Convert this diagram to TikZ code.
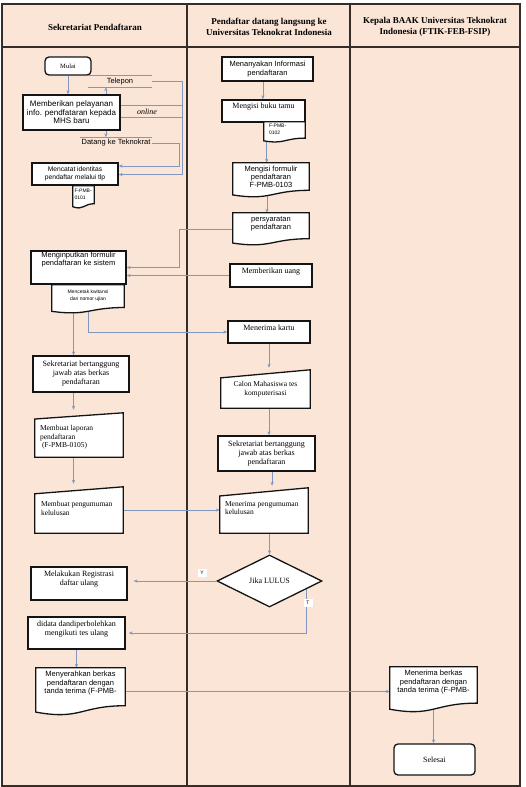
\documentclass[tikz,border=0pt]{standalone}
\usepackage{fontspec}
\setmainfont{Liberation Serif}
\setsansfont{Liberation Sans}
\usetikzlibrary{arrows.meta,calc,shapes.geometric}
\definecolor{peach}{RGB}{251,229,214}
\definecolor{framec}{RGB}{55,45,40}
\definecolor{boxc}{RGB}{20,20,20}
\definecolor{arrc}{RGB}{128,152,192}
\pgfdeclarelayer{back}
\pgfdeclarelayer{conn}
\pgfsetlayers{back,conn,main}
\newcommand\docdraw[1]{%
  \draw[shp] (#1.north west) -- (#1.north east) -- ($(#1.north east)!0.80!(#1.south east)$)
   .. controls ($(#1.north)!0.80!(#1.south)$) and ($(#1.north)!1.11!(#1.south)$) ..
   ($(#1.north west)!0.934!(#1.south west)$) -- cycle;}
\newcommand\mandraw[2]{%
  \draw[shp] ($(#1.north west)!#2!(#1.south west)$) -- (#1.north east) -- (#1.south east) -- (#1.south west) -- cycle;}
\begin{document}
\begin{tikzpicture}[x=1pt,y=-1pt,
 bx/.style={rectangle, draw=boxc, line width=1.3pt, fill=white, inner sep=0pt},
 rbx/.style={bx, rounded corners=4pt},
 ghost/.style={rectangle, draw=none, inner sep=0pt},
 shp/.style={draw=boxc, line width=1.3pt, fill=white, line join=miter},
 ss/.style={font=\fontsize{7.5}{8.4}\selectfont\sffamily, align=center, inner sep=0pt},
 ssb/.style={font=\fontsize{8}{8.5}\selectfont\sffamily, align=center, inner sep=0pt},
 ssm/.style={font=\fontsize{6.7}{7.7}\selectfont\sffamily, align=center, inner sep=0pt},
 sst/.style={font=\fontsize{5}{7}\selectfont\sffamily, align=left, inner sep=0pt},
 rm/.style={font=\fontsize{8}{9}\selectfont\rmfamily, align=center, inner sep=0pt},
 rms/.style={font=\fontsize{7.5}{8.5}\selectfont\rmfamily, align=left, inner sep=0pt},
 hd/.style={font=\fontsize{9}{10.7}\selectfont\bfseries, align=center, inner sep=0pt},
 arr/.style={draw=arrc, line width=0.7pt, -{Stealth[length=4pt,width=3.2pt]}},
 ln/.style={draw=arrc, line width=0.7pt},
 lbl/.style={fill=white, font=\fontsize{5}{6}\selectfont\sffamily, inner sep=0pt, minimum width=9pt, minimum height=8pt},
]
\useasboundingbox (0,0) rectangle (526,787);
\begin{pgfonlayer}{back}
  \fill[white] (0,0) rectangle (526,787);
  \fill[peach] (2,4) rectangle (520,786);
  \draw[framec, line width=1.2pt] (2,4) rectangle (520,786);
  \draw[framec, line width=1.2pt] (2,47) -- (520,47) (187,4) -- (187,786) (350,4) -- (350,786);
\end{pgfonlayer}

% headers
\node[hd] (h1) at (95,27.5) {Sekretariat Pendaftaran};
\node[hd] (h2) at (269,27) {Pendaftar datang langsung ke\\Universitas Teknokrat Indonesia};
\node[hd] (h3) at (435,27) {Kepala BAAK Universitas Teknokrat\\Indonesia (FTIK-FEB-FSIP)};

% ---------- column 1 ----------
\node[rbx, font=\fontsize{6.5}{7}\selectfont\rmfamily, minimum width=46pt, minimum height=18pt] (mulai) at (68,66) {Mulai};
\node[bx, ssb, minimum width=97pt, minimum height=35pt] (memberi) at (71.5,112.5) {Memberikan pelayanan\\info. pendfataran kepada\\MHS baru};
\node[ghost, ss, minimum width=64pt, minimum height=11pt] (telepon) at (120,81.5) {Telepon};
\draw[ln] (telepon.north west) -- (telepon.north east) (telepon.south west) -- (telepon.south east);
\node[ghost, ss, minimum width=72pt, minimum height=11pt] (datang) at (116,143) {Datang ke Teknokrat};
\draw[ln] (datang.north west) -- (datang.north east);
\node[font=\fontsize{8}{9}\selectfont\itshape, inner sep=0pt] (online) at (147,111.5) {online};
\node[bx, ssm, minimum width=86pt, minimum height=22pt] (mencatat) at (75,174) {Mencatat identitas\\pendaftar melalui tlp};
\node[ghost, minimum width=21pt, minimum height=22pt] (fpmb1) at (83.5,197) {};
\docdraw{fpmb1}
\node[sst, anchor=north west] (fpmb1-t) at ([xshift=1.5pt,yshift=-3.5pt]fpmb1.north west) {F-PMB-\\0101};

\node[bx, minimum width=95pt, minimum height=33pt] (menginput) at (78.5,267.5) {};
\node[ss] (menginput-t) at ([yshift=-9pt]menginput.north) {Menginputkan formulir\\pendaftaran ke sistem};
\node[ghost, minimum width=72pt, minimum height=28pt] (mencetak) at (88,299) {};
\docdraw{mencetak}
\node[sst, align=center] (mencetak-t) at ([yshift=-10.5pt]mencetak.north) {Mencetak kwitansi\\dan nomor ujian};

\node[bx, rm, minimum width=96pt, minimum height=36pt] (sek1) at (81,374) {Sekretariat bertanggung\\jawab atas berkas\\pendaftaran};
\node[ghost, minimum width=88pt, minimum height=44pt] (laporan) at (79,435) {};
\mandraw{laporan}{0.14}
\node[rms, anchor=west] (laporan-t) at ([xshift=5pt,yshift=-2.5pt]laporan.west) {Membuat laporan\\pendaftaran\\\hspace{2pt}(F-PMB-0105)};
\node[ghost, minimum width=88pt, minimum height=46pt] (pengumuman) at (79,510) {};
\mandraw{pengumuman}{0.15}
\node[rms, anchor=west] (pengumuman-t) at ([xshift=6pt,yshift=1.5pt]pengumuman.west) {Membuat pengumuman\\kelulusan};

\node[bx, minimum width=96pt, minimum height=33pt] (register) at (79,583.5) {};
\node[rm] (register-t) at ([yshift=-13pt]register.north) {Melakukan Registrasi\\daftar ulang};
\node[bx, minimum width=97pt, minimum height=32pt] (didata) at (76.5,633) {};
\node[rm] (didata-t) at ([yshift=-13pt]didata.north) {didata dandiperbolehkan\\mengikuti tes ulang};
\node[ghost, minimum width=89pt, minimum height=47pt] (menyerahkan) at (80.5,691.5) {};
\docdraw{menyerahkan}
\node[ss] (menyerahkan-t) at ([yshift=-15.5pt]menyerahkan.north) {Menyerahkan berkas\\pendaftaran dengan\\tanda terima (F-PMB-};

% ---------- column 2 ----------
\node[bx, ss, minimum width=91pt, minimum height=24pt] (menanya) at (267.5,69) {Menanyakan Informasi\\pendaftaran};
\node[bx, minimum width=83pt, minimum height=22pt] (bukutamu) at (263.5,111) {};
\node[rm] (bukutamu-t) at ([yshift=-7pt]bukutamu.north) {Mengisi buku tamu};
\node[ghost, minimum width=41pt, minimum height=20pt] (fpmb2) at (284.5,132) {};
\docdraw{fpmb2}
\node[sst, anchor=north west] (fpmb2-t) at ([xshift=5pt,yshift=-2.5pt]fpmb2.north west) {F-PMB-\\0102};
\node[ghost, minimum width=76pt, minimum height=34pt] (formulir) at (271,180) {};
\docdraw{formulir}
\node[ss] (formulir-t) at ([yshift=-14pt]formulir.north) {Mengisi formulir\\pendaftaran\\F-PMB-0103};
\node[ghost, minimum width=76pt, minimum height=32pt] (persyaratan) at (271,229) {};
\docdraw{persyaratan}
\node[ss] (persyaratan-t) at ([yshift=-11pt]persyaratan.north) {persyaratan\\pendaftaran};
\node[bx, minimum width=82pt, minimum height=23pt] (uang) at (271,275.5) {};
\node[rm] (uang-t) at ([yshift=-8pt]uang.north) {Memberikan uang};
\node[bx, minimum width=82pt, minimum height=22pt] (kartu) at (269,332) {};
\node[rm] (kartu-t) at ([yshift=-7pt]kartu.north) {Menerima kartu};
\node[ghost, minimum width=89pt, minimum height=38pt] (calon) at (265.5,389) {};
\mandraw{calon}{0.21}
\node[font=\fontsize{7.5}{8.5}\selectfont\rmfamily, align=center, inner sep=0pt] (calon-t) at (calon.center) {Calon Mahasiswa tes\\komputerisasi};
\node[bx, rm, minimum width=97pt, minimum height=35pt] (sek2) at (266.5,453.5) {Sekretariat bertanggung\\jawab atas berkas\\pendaftaran};
\node[ghost, minimum width=88pt, minimum height=45pt] (terimapeng) at (264,510.5) {};
\mandraw{terimapeng}{0.18}
\node[rms, anchor=west] (terimapeng-t) at ([xshift=5pt,yshift=2.5pt]terimapeng.west) {Menerima pengumuman\\kelulusan};
\node[diamond, aspect=2, draw=boxc, line width=1.3pt, fill=white, inner sep=0pt, minimum width=105pt, minimum height=52pt, rm] (lulus) at (269.5,581) {Jika LULUS};
\node[lbl] (ylbl) at (202,573) {Y};
\node[lbl] (tlbl) at (308,602.5) {T};

% ---------- column 3 ----------
\node[ghost, minimum width=87pt, minimum height=45pt] (berkas) at (433.5,689.5) {};
\docdraw{berkas}
\node[ss] (berkas-t) at ([yshift=-15.3pt]berkas.north) {Menerima berkas\\pendaftaran dengan\\tanda terima (F-PMB-};
\node[rbx, rm, minimum width=81pt, minimum height=31pt] (selesai) at (434.5,759.5) {Selesai};

% ---------- connectors ----------
\begin{pgfonlayer}{conn}
\draw[arr] (mulai.south) -- (mulai.south |- memberi.north);
\draw[arr] ($(memberi.north west)!0.85!(memberi.north east)$) coordinate (c2s) -- (c2s |- telepon.south);
\draw[arr] ($(memberi.south west)!0.85!(memberi.south east)$) coordinate (c3s) -- (c3s |- datang.north);
\draw[arr] (telepon.east) -- ++(30,0) |- ($(mencatat.east)+(0,0.5)$);
\draw[arr] (datang.east) -- ++(27,0) |- ($(mencatat.east)+(0,-8)$);
\draw[ln] ($(memberi.north east)!0.31!(memberi.south east)$) -- ++(62,0);
\draw[ln] ($(memberi.north east)!0.63!(memberi.south east)$) -- ++(62,0);

\draw[arr] (persyaratan.west) -- ++(-53,0) |- (menginput.east);
\draw[arr] (uang.west) -- (uang.west -| menginput.east);
\draw[arr] ($(mencetak.south)+(0,-2)$) |- (kartu.west);
\draw[arr] ($(mencetak.south west)!0.3!(mencetak.south east)$) coordinate (c10s) -- (c10s |- sek1.north);
\draw[arr, shorten >=3pt] (sek1.south -| c10s) -- (c10s |- laporan.north);
\draw[arr, shorten >=3pt] (laporan.south -| c10s) -- (c10s |- pengumuman.north);
\draw[arr] (pengumuman.east) -- (pengumuman.east -| terimapeng.west);

\draw[arr] ($(menanya.south west)!0.45!(menanya.south east)$) coordinate (c14s) -- (c14s |- bukutamu.north);
\draw[arr] ($(fpmb2.south west)!0.07!(fpmb2.south east)+(0,-1.5)$) coordinate (c15s) -- (c15s |- formulir.north);
\draw[arr] ($(formulir.south west)!0.447!(formulir.south east)+(0,-2)$) coordinate (c16s) -- (c16s |- persyaratan.north);
\draw[arr, shorten >=2pt] (kartu.south) -- (kartu.south |- calon.north);
\draw[arr] (calon.south -| kartu.south) -- (kartu.south |- sek2.north);
\draw[arr, shorten >=2pt] ($(sek2.south west)!0.557!(sek2.south east)$) coordinate (c19s) -- (c19s |- terimapeng.north);
\draw[arr] (terimapeng.south -| lulus.north) -- (lulus.north);
\draw[arr, shorten >=6pt] (lulus.west) -- (lulus.west -| register.east);
\draw[arr, shorten >=3pt] ($(lulus.east)!0.3!(lulus.south)$) |- (didata.east);
\draw[arr] (didata.south) -- (didata.south |- menyerahkan.north);
\draw[arr] (menyerahkan.east) -- (menyerahkan.east -| berkas.west);
\draw[arr] ($(berkas.south)+(0,-3)$) -- (berkas.south |- selesai.north);
\end{pgfonlayer}
\end{tikzpicture}
\end{document}
